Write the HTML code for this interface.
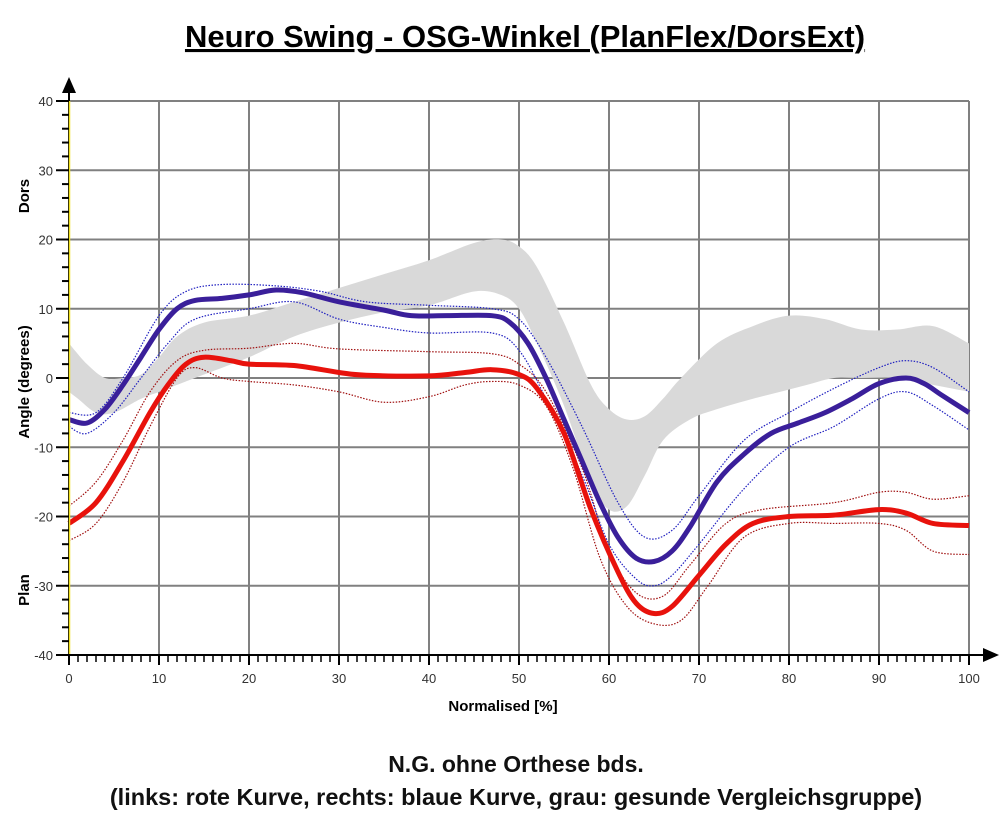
<!DOCTYPE html>
<html><head><meta charset="utf-8"><style>
body{margin:0;background:#fff;width:1000px;height:820px;overflow:hidden}
svg{display:block}
</style></head><body>
<svg id="s" width="1000" height="820" xmlns="http://www.w3.org/2000/svg" font-family="Liberation Sans, Arial, sans-serif">
<text x="525" y="47" font-size="31" font-weight="bold" text-anchor="middle" text-decoration="underline" fill="#000">Neuro Swing - OSG-Winkel (PlanFlex/DorsExt)</text>
<g id="grid"></g>
<g id="plot"></g>
<g id="axes"></g>
<text x="503" y="711" font-size="15" font-weight="bold" text-anchor="middle">Normalised [%]</text>
<text transform="translate(29,196) rotate(-90)" font-size="15" font-weight="bold" text-anchor="middle">Dors</text>
<text transform="translate(29,382) rotate(-90)" font-size="15" font-weight="bold" text-anchor="middle">Angle (degrees)</text>
<text transform="translate(29,590) rotate(-90)" font-size="15" font-weight="bold" text-anchor="middle">Plan</text>
<text x="516" y="772" font-size="23" font-weight="bold" text-anchor="middle" fill="#111">N.G. ohne Orthese bds.</text>
<text x="516" y="805" font-size="23.5" font-weight="bold" text-anchor="middle" fill="#111">(links: rote Kurve, rechts: blaue Kurve, grau: gesunde Vergleichsgruppe)</text>
</svg>
<script>
var NS="http://www.w3.org/2000/svg";
function X(v){return 69+v*9}
function Y(v){return 378-v*6.925}
function el(p,t,a){var e=document.createElementNS(NS,t);for(var k in a)e.setAttribute(k,a[k]);p.appendChild(e);return e}
var g=document.getElementById('grid'),ax=document.getElementById('axes'),pl=document.getElementById('plot');
for(var i=1;i<=10;i++)el(g,'line',{x1:X(i*10),x2:X(i*10),y1:Y(40),y2:Y(-40),stroke:'#808080','stroke-width':2});
for(var j=-3;j<=4;j++)el(g,'line',{x1:X(0),x2:X(100),y1:Y(j*10),y2:Y(j*10),stroke:'#808080','stroke-width':2});
function path(pts){var p=pts.map(function(q){return[X(q[0]),Y(q[1])]});var d='M'+p[0][0]+','+p[0][1];
for(var i=0;i<p.length-1;i++){var p0=p[i-1]||p[i],p1=p[i],p2=p[i+1],p3=p[i+2]||p2;
d+='C'+(p1[0]+(p2[0]-p0[0])/6)+','+(p1[1]+(p2[1]-p0[1])/6)+' '+(p2[0]-(p3[0]-p1[0])/6)+','+(p2[1]-(p3[1]-p1[1])/6)+' '+p2[0]+','+p2[1];}return d}
var gu=[[0,5],[2,2],[4,0],[6,0],[8,0.5],[10,3],[12,6],[15,8],[20,9],[25,11],[30,13],[35,15],[40,17],[45,19.5],[48,20],[50,19],[52,16],[55,8],[58,-1],[60,-4.5],[62,-6],[64,-5.5],[66,-3],[68,0],[72,5],[76,7.5],[80,9],[84,8.5],[88,7],[92,7],[96,7.5],[100,5]];
var gl=[[100,-2],[96,-1],[92,0],[88,0],[85,0],[82,-1],[79,-2],[76,-3],[72,-4.5],[69,-6],[66,-9],[64,-14],[62,-18.5],[60,-19],[58,-15],[55,-4],[52,5],[50,10],[48,12],[45,12.5],[40,10.5],[35,9.5],[30,8],[25,6],[20,3],[15,0.5],[12,-1],[10,-2],[8,-3],[5,-5],[3,-5],[1,-3],[0,-2]];
el(pl,'path',{d:path(gu)+'L'+path(gl).slice(1)+'Z',fill:'#d9d9d9'});
var bm=[[0,-6],[2,-6.5],[4,-4.5],[6,-1],[8,3],[10,7],[12,10],[14,11.2],[17,11.5],[20,12],[23,12.7],[26,12.3],[30,11],[35,9.8],[38,9],[42,9],[47,9],[49,8],[51,5],[53,0],[55,-6],[57,-12],[59,-18],[61,-23],[63,-26],[65,-26.5],[67,-25],[69,-21.5],[72,-15],[75,-11],[78,-8],[81,-6.5],[84,-5],[87,-3],[90,-0.8],[93,0],[95,-0.8],[97,-2.5],[100,-5]];
var bu=[[0,-5],[3,-5],[6,0],[10,9],[13,12.5],[17,13.5],[23,13.3],[28,12.5],[33,11],[40,10.5],[47,10],[50,8.5],[53,3],[57,-7],[61,-18],[64,-23],[67,-22],[70,-17],[75,-9],[80,-5],[85,-1.5],[90,1.5],[93,2.5],[96,1.5],[100,-2]];
var bl=[[0,-7],[2,-8],[5,-5],[8,0],[11,5],[14,8.5],[20,10],[25,11],[30,8.5],[35,7.3],[40,6.5],[47,6.5],[50,4],[53,-3],[57,-14],[60,-24],[63,-29],[65,-30],[67,-28.5],[70,-24],[75,-16],[80,-10],[85,-7],[90,-3],[93,-2],[96,-4],[100,-7.5]];
var rm=[[0,-21],[3,-18],[6,-12],[9,-5],[11,-1],[13,2],[15,3],[18,2.5],[20,2],[25,1.8],[30,0.8],[33,0.4],[40,0.3],[44,0.8],[47,1.2],[50,0.5],[52,-1.5],[55,-8],[58,-19],[61,-28],[63,-32.5],[65,-34],[67,-33],[70,-28.5],[73,-24],[76,-21],[80,-20],[85,-19.8],[90,-19],[93,-19.5],[96,-21],[100,-21.3]];
var ru=[[0,-18.5],[3,-15],[6,-9],[9,-2],[12,2.5],[15,4],[20,4.3],[25,5],[30,4.2],[40,3.8],[47,3.5],[50,2],[53,-2],[57,-13],[60,-25],[63,-31],[66,-31.5],[69,-27],[73,-21],[77,-19],[85,-18],[90,-16.5],[93,-16.5],[96,-17.5],[100,-17]];
var rl=[[0,-23.5],[3,-21],[6,-15],[9,-7],[12,0],[14,1.5],[17,0],[20,-0.5],[25,-1],[30,-2],[35,-3.5],[40,-2.7],[44,-1],[47,-0.5],[50,-1],[53,-4],[56,-13],[59,-26],[62,-33],[65,-35.5],[68,-35],[71,-30],[75,-23],[80,-21],[85,-21],[90,-21],[93,-22],[96,-25],[100,-25.5]];
[[ru,'#a01010'],[rl,'#a01010'],[bu,'#2020c0'],[bl,'#2020c0']].forEach(function(a){el(pl,'path',{d:path(a[0]),fill:'none',stroke:a[1],'stroke-width':1.2,'stroke-dasharray':'1.5 1.5'})});
el(pl,'path',{d:path(rm),fill:'none',stroke:'#e8120c','stroke-width':5});
el(pl,'path',{d:path(bm),fill:'none',stroke:'#3a1f9a','stroke-width':5});
el(ax,'line',{x1:69,x2:69,y1:Y(-40),y2:88,stroke:'#000','stroke-width':2});
el(ax,'line',{x1:69.5,x2:69.5,y1:Y(-40),y2:Y(40),stroke:'#f0e020','stroke-width':1.5});
el(ax,'polygon',{points:'62,93 76,93 69,77',fill:'#000'});
el(ax,'line',{x1:69,x2:990,y1:Y(-40),y2:Y(-40),stroke:'#000','stroke-width':2});
el(ax,'polygon',{points:'983,648 983,662 999,655',fill:'#000'});
for(var v=-40;v<=40;v+=2){var maj=v%10==0;el(ax,'line',{x1:maj?56:62,x2:69,y1:Y(v),y2:Y(v),stroke:'#000','stroke-width':2});
if(maj){var t=el(ax,'text',{x:53,y:Y(v)+5,'font-size':13,'text-anchor':'end',fill:'#333'});t.textContent=v;}}
for(var u=0;u<=100;u++){var mj=u%10==0;el(ax,'line',{x1:X(u),x2:X(u),y1:Y(-40),y2:Y(-40)+(mj?10:7),stroke:'#000','stroke-width':mj?2:1.5});
if(mj){var t2=el(ax,'text',{x:X(u),y:683,'font-size':13,'text-anchor':'middle',fill:'#333'});t2.textContent=u;}}
</script>
</body></html>
